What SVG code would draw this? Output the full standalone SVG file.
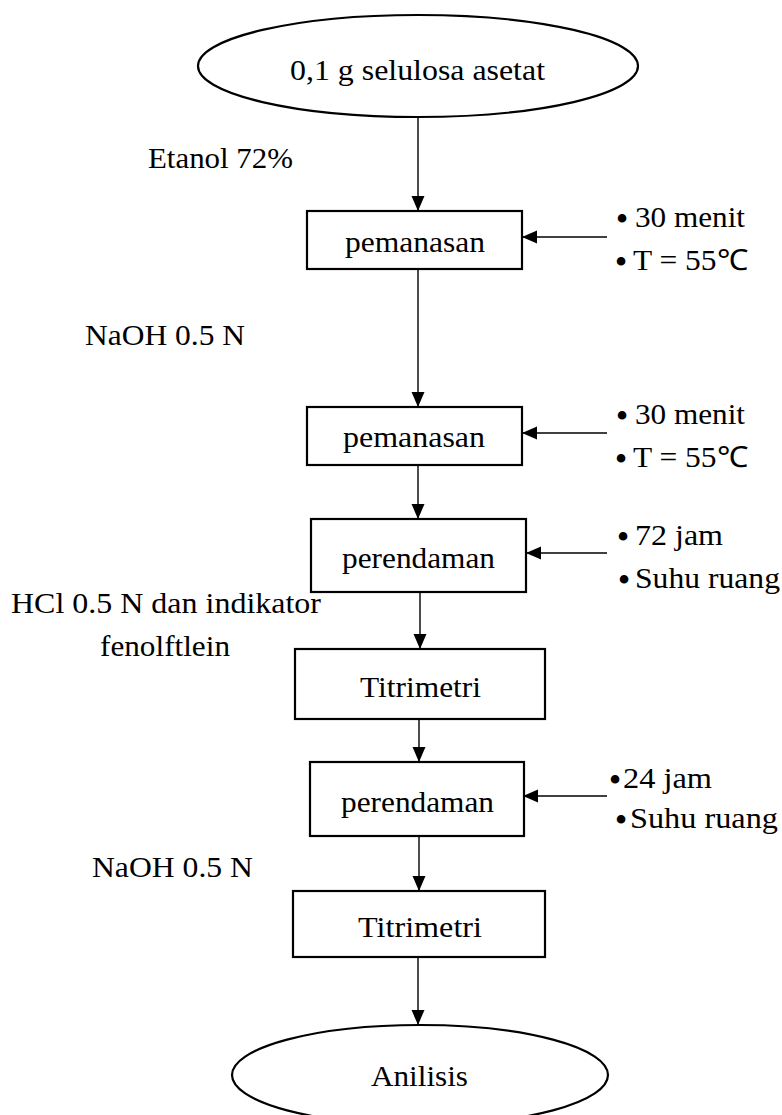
<svg xmlns="http://www.w3.org/2000/svg" width="782" height="1115" viewBox="0 0 782 1115">
<style>
.t{font-family:"Liberation Serif","Times New Roman",serif;font-size:29px;fill:#000}
.b{font-family:"Liberation Serif","Times New Roman",serif;font-size:36px;fill:#000;text-anchor:middle}
.box{fill:#fff;stroke:#000;stroke-width:2.2}
.ell{fill:#fff;stroke:#000;stroke-width:2.2}
.ln{stroke:#000;stroke-width:1.4;fill:none;marker-end:url(#ah)}
</style>
<defs>
<marker id="ah" markerUnits="userSpaceOnUse" markerWidth="16" markerHeight="16" viewBox="0 0 16 16" refX="15" refY="8" orient="auto">
<path d="M0,1.5 L15,8 L0,14.5 Z" fill="#000"/>
</marker>
</defs>
<rect width="782" height="1115" fill="#fff"/>
<g id="connectors">
<line class="ln" x1="418" y1="117" x2="418" y2="211"/>
<line class="ln" x1="418" y1="269" x2="418" y2="407"/>
<line class="ln" x1="418" y1="465" x2="418" y2="519"/>
<line class="ln" x1="420" y1="592" x2="420" y2="649"/>
<line class="ln" x1="419" y1="719" x2="419" y2="762"/>
<line class="ln" x1="419" y1="836" x2="419" y2="891"/>
<line class="ln" x1="418" y1="957" x2="418" y2="1025"/>
<line class="ln" x1="607" y1="237" x2="522" y2="237"/>
<line class="ln" x1="607" y1="433" x2="522" y2="433"/>
<line class="ln" x1="607" y1="553" x2="526" y2="553"/>
<line class="ln" x1="607" y1="796" x2="523" y2="796"/>
</g>
<g id="start">
<ellipse class="ell" cx="418" cy="66" rx="220" ry="51"/>
<text class="t" x="290" y="80" textLength="255" lengthAdjust="spacingAndGlyphs">0,1 g selulosa asetat</text>
</g>
<g id="label-etanol">
<text class="t" x="148" y="168" textLength="145" lengthAdjust="spacingAndGlyphs">Etanol 72%</text>
</g>
<g id="pemanasan1">
<rect class="box" x="307" y="211" width="215" height="58"/>
<text class="t" x="345" y="252" textLength="140" lengthAdjust="spacingAndGlyphs">pemanasan</text>
</g>
<g id="cond1">
<text class="b" x="622" y="231">•</text>
<text class="t" x="635" y="227" textLength="110" lengthAdjust="spacingAndGlyphs">30 menit</text>
<text class="b" x="621" y="274">•</text>
<text class="t" x="633" y="270" textLength="115" lengthAdjust="spacingAndGlyphs">T = 55℃</text>
</g>
<g id="label-naoh1">
<text class="t" x="85" y="345" textLength="160" lengthAdjust="spacingAndGlyphs">NaOH 0.5 N</text>
</g>
<g id="pemanasan2">
<rect class="box" x="307" y="407" width="215" height="58"/>
<text class="t" x="343" y="447" textLength="142" lengthAdjust="spacingAndGlyphs">pemanasan</text>
</g>
<g id="cond2">
<text class="b" x="622" y="428">•</text>
<text class="t" x="635" y="424" textLength="110" lengthAdjust="spacingAndGlyphs">30 menit</text>
<text class="b" x="621" y="471">•</text>
<text class="t" x="633" y="467" textLength="115" lengthAdjust="spacingAndGlyphs">T = 55℃</text>
</g>
<g id="perendaman1">
<rect class="box" x="311" y="519" width="215" height="73"/>
<text class="t" x="342" y="568" textLength="153" lengthAdjust="spacingAndGlyphs">perendaman</text>
</g>
<g id="cond3">
<text class="b" x="623" y="549">•</text>
<text class="t" x="635" y="545" textLength="88" lengthAdjust="spacingAndGlyphs">72 jam</text>
<text class="b" x="624" y="592">•</text>
<text class="t" x="635" y="588" textLength="145" lengthAdjust="spacingAndGlyphs">Suhu ruang</text>
</g>
<g id="label-hcl">
<text class="t" x="11" y="613" textLength="310" lengthAdjust="spacingAndGlyphs">HCl 0.5 N dan indikator</text>
<text class="t" x="100" y="656" textLength="130" lengthAdjust="spacingAndGlyphs">fenolftlein</text>
</g>
<g id="titrimetri1">
<rect class="box" x="295" y="649" width="250" height="70"/>
<text class="t" x="360" y="697" textLength="121" lengthAdjust="spacingAndGlyphs">Titrimetri</text>
</g>
<g id="perendaman2">
<rect class="box" x="310" y="762" width="214" height="74"/>
<text class="t" x="341" y="812" textLength="153" lengthAdjust="spacingAndGlyphs">perendaman</text>
</g>
<g id="cond4">
<text class="b" x="615" y="792">•</text>
<text class="t" x="623" y="788" textLength="89" lengthAdjust="spacingAndGlyphs">24 jam</text>
<text class="b" x="621" y="832">•</text>
<text class="t" x="630" y="828" textLength="148" lengthAdjust="spacingAndGlyphs">Suhu ruang</text>
</g>
<g id="label-naoh2">
<text class="t" x="92" y="877" textLength="161" lengthAdjust="spacingAndGlyphs">NaOH 0.5 N</text>
</g>
<g id="titrimetri2">
<rect class="box" x="293" y="891" width="252" height="66"/>
<text class="t" x="358" y="937" textLength="124" lengthAdjust="spacingAndGlyphs">Titrimetri</text>
</g>
<g id="end">
<ellipse class="ell" cx="420" cy="1075" rx="188" ry="50"/>
<text class="t" x="371" y="1086" textLength="97" lengthAdjust="spacingAndGlyphs">Anilisis</text>
</g>
</svg>
